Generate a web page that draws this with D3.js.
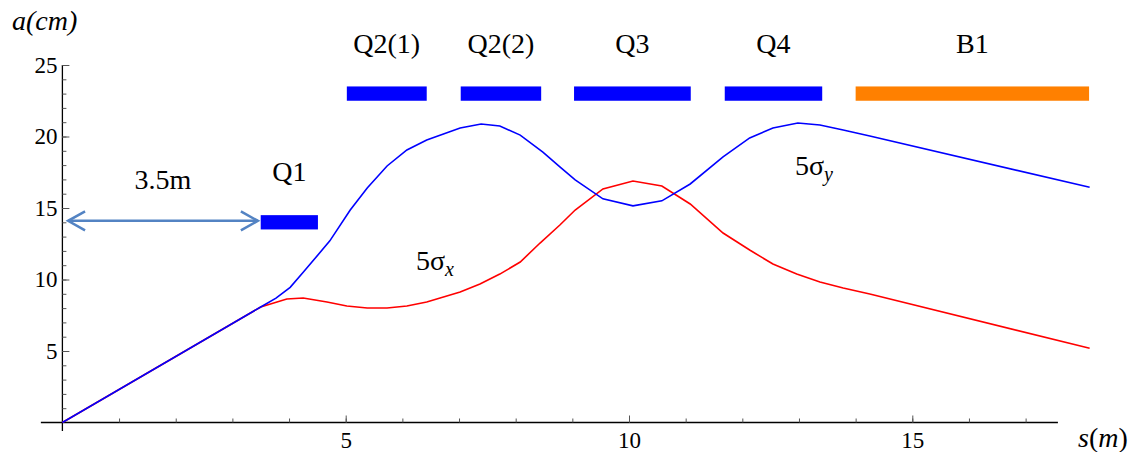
<!DOCTYPE html>
<html>
<head>
<meta charset="utf-8">
<script src="https://cdn.jsdelivr.net/npm/d3@7"></script>
<style>
  body { margin: 0; background: #fff; }
</style>
</head>
<body>
<div id="container"></div>
<script>
let w = 1136;
let h = 452;
let serif = "Liberation Serif";

// beam envelope, s in m, a in cm
let sigmaY = [
  [0, 0], [3.5, 8.08], [3.77, 8.7], [4.02, 9.45], [4.25, 10.5], [4.72, 12.7], [5.08, 14.86],
  [5.38, 16.4], [5.73, 17.94], [6.08, 19.06], [6.43, 19.76], [7.02, 20.59],
  [7.39, 20.87], [7.72, 20.73], [8.08, 20.1], [8.48, 18.9], [8.78, 17.87],
  [9.05, 16.96], [9.54, 15.64], [10.07, 15.15], [10.58, 15.5], [11.08, 16.68],
  [11.66, 18.57], [12.13, 19.9], [12.54, 20.59], [12.98, 20.94], [13.37, 20.8],
  [13.78, 20.45], [14.25, 20.03], [18.13, 16.45]
];
let sigmaX = [
  [0, 0], [3.5, 8.08], [3.96, 8.64], [4.25, 8.71], [4.67, 8.43], [5.02, 8.15],
  [5.38, 8.01], [5.73, 8.01], [6.08, 8.15], [6.43, 8.43], [7.02, 9.13],
  [7.37, 9.69], [7.72, 10.38], [8.08, 11.22], [8.43, 12.55], [8.78, 13.81],
  [9.05, 14.86], [9.54, 16.33], [10.07, 16.89], [10.58, 16.54], [11.08, 15.28],
  [11.66, 13.25], [12.13, 12.06], [12.54, 11.08], [12.96, 10.38], [13.37, 9.83],
  [13.78, 9.41], [14.25, 8.99], [18.13, 5.19]
];

// magnets: name, start, end, bar centre (a), label baseline (a)
let magnetNames = ["Q1", "Q2(1)", "Q2(2)", "Q3", "Q4", "B1"];
let magnetStart = [3.5, 5.02, 7.03, 9.03, 11.69, 14.0];
let magnetEnd = [4.51, 6.43, 8.45, 11.09, 13.41, 18.12];
let magnetLevel = [14.0, 23.0, 23.0, 23.0, 23.0, 23.0];
let magnetLabelLevel = [16.9, 25.85, 25.85, 25.85, 25.85, 25.85];
let magnetColor = ["#0000ff", "#0000ff", "#0000ff", "#0000ff", "#0000ff", "#ff8000"];

let xMajorTicks = [5, 10, 15];
let xMinorTicks = d3.range(1, 18);
let yMajorTicks = [5, 10, 15, 20, 25];
let yMinorTicks = d3.range(1, 26);

let viz = d3.select("#container")
  .append("svg")
    .attr("width", w)
    .attr("height", h)
;

let xScale = d3.scaleLinear().domain([0, 18]).range([62.4, 62.4 + 18 * 56.66]);
let yScale = d3.scaleLinear().domain([0, 25]).range([422.5, 65]);

// axis lines
viz.append("line")
  .attr("x1", xScale(-0.38)).attr("x2", xScale(17.57))
  .attr("y1", yScale(0)).attr("y2", yScale(0))
  .attr("stroke", "#000").attr("stroke-width", 1.3);
viz.append("line")
  .attr("x1", xScale(0)).attr("x2", xScale(0))
  .attr("y1", yScale(25)).attr("y2", yScale(-0.6))
  .attr("stroke", "#000").attr("stroke-width", 1.3);

// minor ticks
viz.append("g").attr("transform", "translate(0," + yScale(0) + ")")
  .call(d3.axisBottom(xScale).tickValues(xMinorTicks).tickSize(-4).tickFormat(""));
viz.append("g").attr("transform", "translate(" + xScale(0) + ",0)")
  .call(d3.axisLeft(yScale).tickValues(yMinorTicks).tickSize(-4).tickFormat(""));

// major ticks with labels
viz.append("g").attr("transform", "translate(0," + yScale(0) + ")")
  .call(d3.axisBottom(xScale).tickValues(xMajorTicks).tickSize(-7).tickPadding(9));
viz.append("g").attr("transform", "translate(" + xScale(0) + ",0)")
  .call(d3.axisLeft(yScale).tickValues(yMajorTicks).tickSize(-7).tickPadding(5));

viz.selectAll(".domain").remove();
viz.selectAll(".tick line").attr("stroke", "#555").attr("stroke-width", 1);
viz.selectAll(".tick text")
  .style("font-family", serif)
  .style("font-size", "23px")
  .attr("fill", "#000");

// axis titles
viz.append("text")
  .attr("x", 12).attr("y", 30)
  .style("font-family", serif).style("font-size", "28px").style("font-style", "italic")
  .text("a(cm)");
let sLabel = viz.append("text")
  .attr("x", 1078).attr("y", 447)
  .style("font-family", serif).style("font-size", "28px");
sLabel.append("tspan").style("font-style", "italic").text("s");
sLabel.append("tspan").text("(");
sLabel.append("tspan").style("font-style", "italic").text("m");
sLabel.append("tspan").text(")");

// curves
let line = d3.line()
  .x(function(d){ return xScale(d[0]); })
  .y(function(d){ return yScale(d[1]); });

viz.append("path").datum(sigmaX)
  .attr("d", line).attr("fill", "none")
  .attr("stroke", "#ff0000").attr("stroke-width", 1.6);
viz.append("path").datum(sigmaY)
  .attr("d", line).attr("fill", "none")
  .attr("stroke", "#0000ff").attr("stroke-width", 1.6);

// magnets
let magnets = magnetNames.map(function(n, i) {
  return {name: n, s0: magnetStart[i], s1: magnetEnd[i], a: magnetLevel[i], la: magnetLabelLevel[i], color: magnetColor[i]};
});

viz.selectAll(".magnet").data(magnets).enter()
  .append("rect")
    .attr("class", "magnet")
    .attr("x", function(d){ return xScale(d.s0); })
    .attr("width", function(d){ return xScale(d.s1) - xScale(d.s0); })
    .attr("y", function(d){ return yScale(d.a + 0.5); })
    .attr("height", function(d){ return yScale(d.a - 0.5) - yScale(d.a + 0.5); })
    .attr("fill", function(d){ return d.color; })
;

viz.selectAll(".magnetLabel").data(magnets).enter()
  .append("text")
    .attr("class", "magnetLabel")
    .attr("x", function(d){ return (xScale(d.s0) + xScale(d.s1)) / 2; })
    .attr("y", function(d){ return yScale(d.la); })
    .attr("text-anchor", "middle")
    .style("font-family", serif)
    .style("font-size", "28px")
    .text(function(d){ return d.name; })
;

// drift length arrow
let arrowS = [0.1, 3.45];
let arrowA = 14.1;
let arrowColor = "#5383c3";
let ay = yScale(arrowA);
viz.append("line")
  .attr("x1", xScale(arrowS[0])).attr("x2", xScale(arrowS[1]))
  .attr("y1", ay).attr("y2", ay)
  .attr("stroke", arrowColor).attr("stroke-width", 2.5);
[[arrowS[0], 1], [arrowS[1], -1]].forEach(function(p) {
  let tx = xScale(p[0]);
  viz.append("path")
    .attr("d", "M" + (tx + p[1] * 17) + "," + (ay - 9.5) + "L" + tx + "," + ay + "L" + (tx + p[1] * 17) + "," + (ay + 9.5))
    .attr("fill", "none").attr("stroke", arrowColor).attr("stroke-width", 2.5);
});
viz.append("text")
  .attr("x", (xScale(arrowS[0]) + xScale(arrowS[1])) / 2)
  .attr("y", 189)
  .attr("text-anchor", "middle")
  .style("font-family", serif)
  .style("font-size", "28px")
  .text("3.5m");

// curve labels
let sx = viz.append("text").attr("x", 416).attr("y", 270)
  .style("font-family", serif).style("font-size", "28px");
sx.append("tspan").text("5σ");
sx.append("tspan").style("font-style", "italic").style("font-size", "20px").attr("dy", 6).text("x");

let sy = viz.append("text").attr("x", 795).attr("y", 175)
  .style("font-family", serif).style("font-size", "28px");
sy.append("tspan").text("5σ");
sy.append("tspan").style("font-style", "italic").style("font-size", "20px").attr("dy", 6).text("y");
</script>
</body>
</html>
